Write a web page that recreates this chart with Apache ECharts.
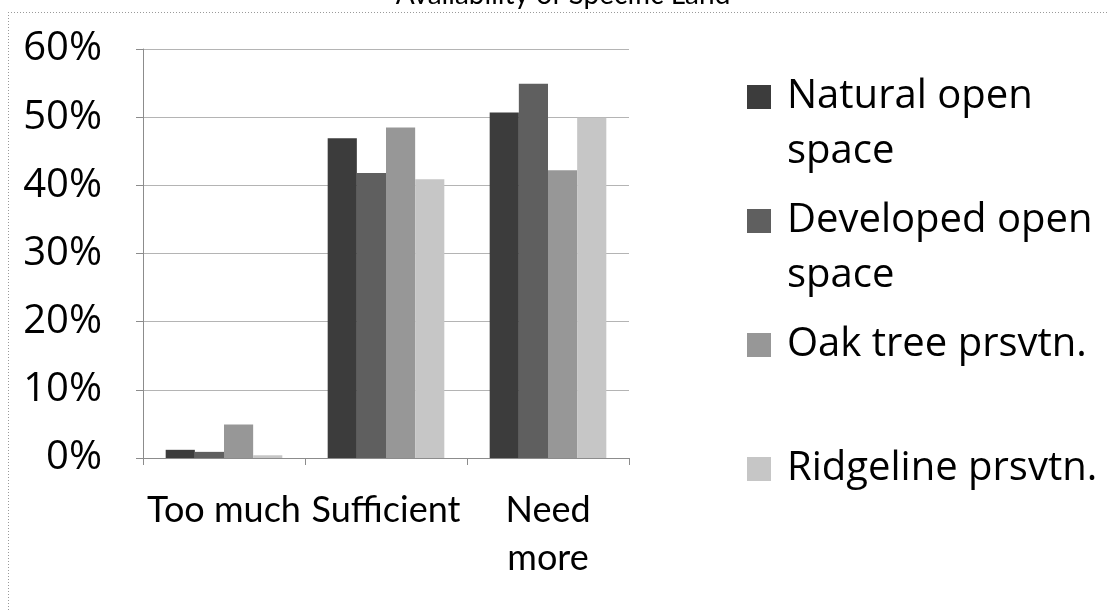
<!DOCTYPE html>
<html>
<head>
<meta charset="utf-8">
<script src="https://cdn.jsdelivr.net/npm/echarts@6/dist/echarts.min.js"></script>
<style>
html,body{margin:0;padding:0;background:#fff;}
#c{width:1108px;height:610px;}
</style>
</head>
<body>
<div id="c"></div>
<script>
var categories = ['Too much', 'Sufficient', 'Need more'];
var seriesNames = ['Natural open space', 'Developed open space', 'Oak tree prsvtn.', 'Ridgeline prsvtn.'];
var naturalOpen = [1.2, 46.9, 50.7];
var developedOpen = [0.9, 41.8, 54.9];
var oakTree = [4.9, 48.5, 42.2];
var ridgeline = [0.4, 40.9, 49.9];
var yTicks = [0, 10, 20, 30, 40, 50, 60];
var titleText = 'Availability of Specific Land';

var legendLabels = {
  'Natural open space': ' \nNatural open\nspace',
  'Developed open space': ' \nDeveloped open\nspace',
  'Oak tree prsvtn.': ' \nOak tree prsvtn.\n ',
  'Ridgeline prsvtn.': ' \nRidgeline prsvtn.\n '
};
var colors = ['#3c3c3c', '#5f5f5f', '#979797', '#c6c6c6'];
var FONT = 'Lato, "Open Sans", sans-serif';
var FONT2 = '"Open Sans", Lato, sans-serif';
var values = [naturalOpen, developedOpen, oakTree, ridgeline];

var chart = echarts.init(document.getElementById('c'), null, {renderer: 'canvas'});
var series = seriesNames.map(function (n, i) {
  return {
    name: n,
    type: 'bar',
    data: values[i],
    barGap: '0%',
    barCategoryGap: '28%',
    itemStyle: {color: colors[i]},
    emphasis: {disabled: true}
  };
});

var LH = 55;
chart.setOption({
  animation: false,
  color: colors,
  grid: {left: 143, right: 479, top: 49, bottom: 152, containLabel: false},
  graphic: [
    {type: 'line', shape: {x1: 8, y1: 12.5, x2: 1108, y2: 12.5}, style: {stroke: '#9a9a9a', lineWidth: 1, lineDash: [1, 2]}},
    {type: 'line', shape: {x1: 8.5, y1: 12, x2: 8.5, y2: 610}, style: {stroke: '#9a9a9a', lineWidth: 1, lineDash: [1, 2]}},
    {type: 'text', x: 563, y: 9, style: {text: titleText, font: '28px ' + FONT, fill: '#000', textAlign: 'center', textVerticalAlign: 'bottom'}}
  ],
  legend: {
    orient: 'vertical',
    left: 747,
    top: 97 - 1.5 * LH,
    padding: 0,
    itemWidth: 24,
    itemHeight: 24,
    itemGap: 124 - 3 * LH,
    icon: 'rect',
    selectedMode: false,
    data: seriesNames,
    formatter: function (n) { return legendLabels[n]; },
    textStyle: {fontFamily: FONT2, fontSize: 40, color: '#000', lineHeight: LH, padding: [0, 0, 0, 11]}
  },
  xAxis: {
    type: 'category',
    data: categories,
    axisLine: {show: true, lineStyle: {color: '#8c8c8c', width: 1}},
    axisTick: {show: true, length: 7, alignWithLabel: false, lineStyle: {color: '#8c8c8c'}},
    axisLabel: {
      margin: 28,
      interval: 0,
      fontFamily: FONT, fontSize: 36, color: '#000', lineHeight: 48,
      formatter: function (v) { return v === 'Need more' ? 'Need\nmore' : v; }
    }
  },
  yAxis: {
    type: 'value',
    min: 0, max: 60, interval: 10,
    axisLine: {show: true, lineStyle: {color: '#8c8c8c', width: 1}},
    axisTick: {show: true, length: 7, lineStyle: {color: '#8c8c8c'}},
    splitLine: {show: true, lineStyle: {color: '#b4b4b4', width: 1}},
    axisLabel: {
      margin: 41,
      fontFamily: FONT2, fontSize: 40, color: '#000',
      formatter: function (v) { return yTicks.indexOf(v) >= 0 ? v + '%' : ''; }
    }
  },
  series: series
});
</script>
</body>
</html>
